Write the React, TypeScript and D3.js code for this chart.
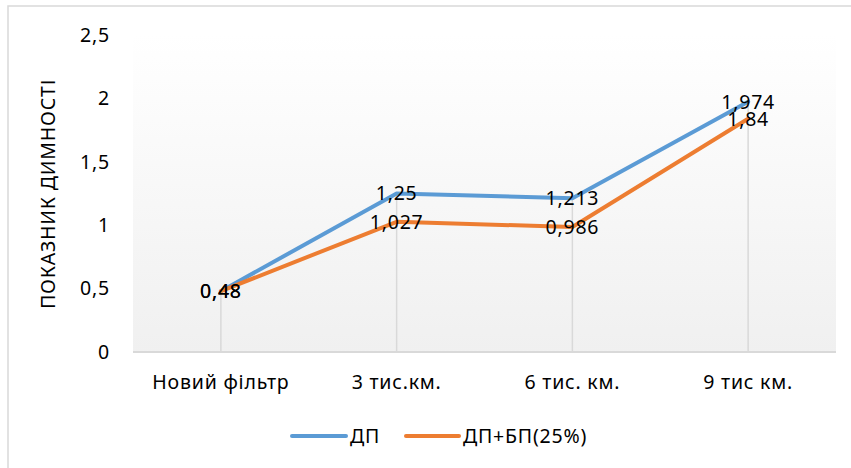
import React from "react";
import * as d3 from "d3";

const categories = ["Новий фільтр", "3 тис.км.", "6 тис. км.", "9 тис км."];
const seriesDP = [0.48, 1.25, 1.213, 1.974];
const seriesDPBP = [0.48, 1.027, 0.986, 1.84];
const yTicks = [0, 0.5, 1, 1.5, 2, 2.5];
const seriesNames = ["ДП", "ДП+БП(25%)"];
const seriesColors = ["#5B9BD5", "#ED7D31"];

const W = 851;
const H = 468;
const FONT = "'Noto Sans', 'Open Sans', sans-serif";
const FS = 19.5;
const LS = 0.8;

export default function App() {
  const left = 133, right = 836, top = 35, bottom = 352;
  const x = d3.scaleBand<string>().domain(categories).range([left, right]);
  const y = d3.scaleLinear().domain([0, 2.5]).range([bottom, top]);
  const cx = (c: string) => (x(c) as number) + x.bandwidth() / 2;
  const line = d3
    .line<number>()
    .x((_, i) => cx(categories[i]))
    .y((d) => y(d));
  const all = [seriesDP, seriesDPBP];
  const fmt = (v: number) => String(v).replace(".", ",");

  return (
    <svg
      width={W}
      height={H}
      style={{ position: "absolute", left: 0, top: 0, background: "#fff" }}
      fontFamily={FONT}
      fontSize={FS}
      letterSpacing={LS}
    >
      <defs>
        <linearGradient id="pa" x1="0" y1="0" x2="0" y2="1">
          <stop offset="0" stopColor="#ffffff" />
          <stop offset="1" stopColor="#f0f0f0" />
        </linearGradient>
      </defs>
      <rect x={8} y={6} width={W + 10} height={H + 10} fill="#fff" stroke="#d9d9d9" strokeWidth={1.5} />
      <rect x={left} y={top} width={right - left} height={bottom - top} fill="url(#pa)" />
      {categories.map((c, i) => (
        <line
          key={c}
          x1={cx(c)}
          x2={cx(c)}
          y1={y(Math.max(seriesDP[i], seriesDPBP[i]))}
          y2={bottom}
          stroke="#d9d9d9"
          strokeWidth={1.5}
        />
      ))}
      <line x1={left} x2={right} y1={bottom} y2={bottom} stroke="#d9d9d9" strokeWidth={2} />
      {yTicks.map((t) => (
        <text key={t} x={110} y={y(t)} dy="0.35em" textAnchor="end" fill="#000">
          {fmt(t)}
        </text>
      ))}
      {categories.map((c) => (
        <text key={c} x={cx(c)} y={382} dy="0.35em" textAnchor="middle" fill="#000">
          {c}
        </text>
      ))}
      <text
        transform={`translate(48,194) rotate(-90)`}
        textAnchor="middle"
        dy="0.35em"
        fill="#000"
      >
        ПОКАЗНИК ДИМНОСТІ
      </text>
      {all.map((s, k) => (
        <path key={k} d={line(s) as string} fill="none" stroke={seriesColors[k]} strokeWidth={4} strokeLinejoin="round" strokeLinecap="round" />
      ))}
      {all.map((s, k) =>
        s.map((v, i) => (
          <text
            key={`${k}-${i}`}
            x={cx(categories[i])}
            y={y(v)}
            dy="0.35em"
            textAnchor="middle"
            fill="#000"
          >
            {fmt(v)}
          </text>
        ))
      )}
      {[
        { x1: 292, x2: 346, tx: 350 },
        { x1: 406, x2: 459, tx: 463 },
      ].map((l, k) => (
        <g key={k}>
          <line x1={l.x1} x2={l.x2} y1={436} y2={436} stroke={seriesColors[k]} strokeWidth={4} strokeLinecap="round" />
          <text x={l.tx} y={436} dy="0.35em" fill="#000">
            {seriesNames[k]}
          </text>
        </g>
      ))}
    </svg>
  );
}
